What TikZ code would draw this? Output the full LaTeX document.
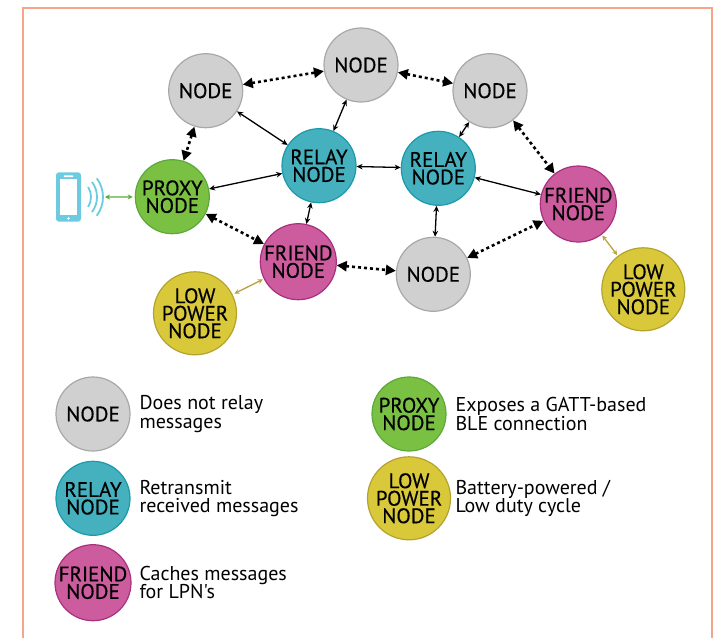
\documentclass[tikz,border=0pt]{standalone}
\usepackage{fontspec}
\setmainfont{PT Sans}[Ligatures=TeXOff]
\newfontfamily\meshfont{PT Sans}[FakeBold=0.4]
\usetikzlibrary{arrows.meta}
\definecolor{frameline}{HTML}{F4A58A}
\definecolor{greyfill}{HTML}{D0D0D0}
\definecolor{greyline}{HTML}{A8A8A8}
\definecolor{relayfill}{HTML}{45B0BE}
\definecolor{relayline}{HTML}{1A9AAA}
\definecolor{proxyfill}{HTML}{7AC143}
\definecolor{proxyline}{HTML}{5DA83A}
\definecolor{friendfill}{HTML}{CC5C9E}
\definecolor{friendline}{HTML}{A8307F}
\definecolor{lpnfill}{HTML}{D9C93A}
\definecolor{lpnline}{HTML}{B3A32E}
\definecolor{phoneblue}{HTML}{6CCBE0}
\definecolor{airgreen}{HTML}{5BAA3C}
\definecolor{lpnlink}{HTML}{B9A43A}

\begin{document}
\begin{tikzpicture}[x=1pt,y=-1pt,
    mesh/.style={circle,draw,line width=1.2pt,minimum size=74pt,inner sep=0pt,
      align=center,font=\meshfont\fontsize{21}{17.5}\selectfont},
    plain/.style={mesh,fill=greyfill,draw=greyline},
    relay/.style={mesh,fill=relayfill,draw=relayline},
    proxy/.style={mesh,fill=proxyfill,draw=proxyline},
    friend/.style={mesh,fill=friendfill,draw=friendline},
    lpn/.style={mesh,fill=lpnfill,draw=lpnline},
    keytext/.style={anchor=west,align=left,font=\fontsize{20}{18.5}\selectfont},
    link/.style={{Stealth[length=6pt,width=5.5pt]}-{Stealth[length=6pt,width=5.5pt]},line width=1.3pt},
    hop/.style={{Triangle[length=10pt,width=10pt]}-{Triangle[length=10pt,width=10pt]},
      line width=2.6pt,dash pattern=on 3pt off 3pt},
    tether/.style={{Stealth[length=5pt,width=5pt]}-{Stealth[length=5pt,width=5pt]},line width=1.3pt}]
  \useasboundingbox (0,0) rectangle (719,638);
  \draw[frameline,line width=1.5pt] (23,638) -- (23,8) -- (712,8) -- (712,638);

  % mesh
  \node[plain] (nodeTL) at (205.7,90.7) {NODE};
  \node[plain] (nodeTC) at (361,65) {NODE};
  \node[plain] (nodeTR) at (490,90.7) {NODE};
  \node[plain] (nodeB) at (433.3,274.3) {NODE};
  \node[relay] (relayL) at (319,165.7) {RELAY\\NODE};
  \node[relay] (relayR) at (438.3,168.3) {RELAY\\NODE};
  \node[proxy] (proxy) at (172.3,196.7) {PROXY\\NODE};
  \node[friend] (friendL) at (298.3,261.7) {FRIEND\\NODE};
  \node[friend] (friendR) at (578.3,204) {FRIEND\\NODE};
  \node[lpn] (lpnL) at (195,313.3) {LOW\\POWER\\NODE};
  \node[lpn] (lpnR) at (643.3,289.3) {LOW\\POWER\\NODE};

  % phone
  \fill[phoneblue,rounded corners=3pt] (56,172.3) rectangle (81,221.7);
  \fill[white] (59.7,179) rectangle (77.3,215);
  \fill[white,rounded corners=1pt] (63.5,175.3) rectangle (73.5,177);
  \fill[white] (68.5,218.5) circle (1.4pt);
  \draw[phoneblue,line width=1.8pt] (72,197) ++(-32:19) arc[start angle=-32,end angle=32,radius=19];
  \draw[phoneblue,line width=1.8pt] (72,197) ++(-37:25) arc[start angle=-37,end angle=37,radius=25];
  \draw[phoneblue,line width=1.8pt] (72,197) ++(-37:31) arc[start angle=-37,end angle=37,radius=31];
  \coordinate (phone) at (105,197);

  \draw[hop] (nodeTL) -- (nodeTC);
  \draw[hop] (nodeTC) -- (nodeTR);
  \draw[hop] (nodeTL) -- (proxy);
  \draw[hop] (proxy) -- (friendL);
  \draw[hop] (friendL) -- (nodeB);
  \draw[hop] (nodeB) -- (friendR);
  \draw[hop] (nodeTR) -- (friendR);

  \draw[link] (nodeTL) -- (relayL);
  \draw[link] (nodeTC) -- (relayL);
  \draw[link] (relayL) -- (proxy);
  \draw[link] (relayL) -- (friendL);
  \draw[link] (relayL) -- (relayR);
  \draw[link] (relayR) -- (nodeTR);
  \draw[link] (relayR) -- (friendR);
  \draw[link] (relayR) -- (nodeB);

  \draw[tether,airgreen,shorten >=2pt] (phone) -- (proxy);
  \draw[tether,lpnlink,shorten <=2pt,shorten >=1pt] (lpnL) -- (friendL);
  \draw[tether,lpnlink,shorten <=1pt,shorten >=1pt] (friendR) -- (lpnR);

  % legend
  \node[plain] (keyNode) at (93,414) {NODE};
  \node[relay] (keyRelay) at (93,498.3) {RELAY\\NODE};
  \node[friend] (keyFriend) at (93,582.7) {FRIEND\\NODE};
  \node[proxy] (keyProxy) at (409,414) {PROXY\\NODE};
  \node[lpn] (keyLpn) at (409,498.3) {LOW\\POWER\\NODE};
  \node[keytext] (keyNodeTxt) at (136,414) {Does not relay\\messages};
  \node[keytext] (keyRelayTxt) at (136,498.3) {Retransmit\\received messages};
  \node[keytext] (keyFriendTxt) at (136,582.7) {Caches messages\\for LPN's};
  \node[keytext] (keyProxyTxt) at (452,414) {Exposes a GATT-based\\BLE connection};
  \node[keytext] (keyLpnTxt) at (452,498.3) {Battery-powered /\\Low duty cycle};
\end{tikzpicture}
\end{document}
